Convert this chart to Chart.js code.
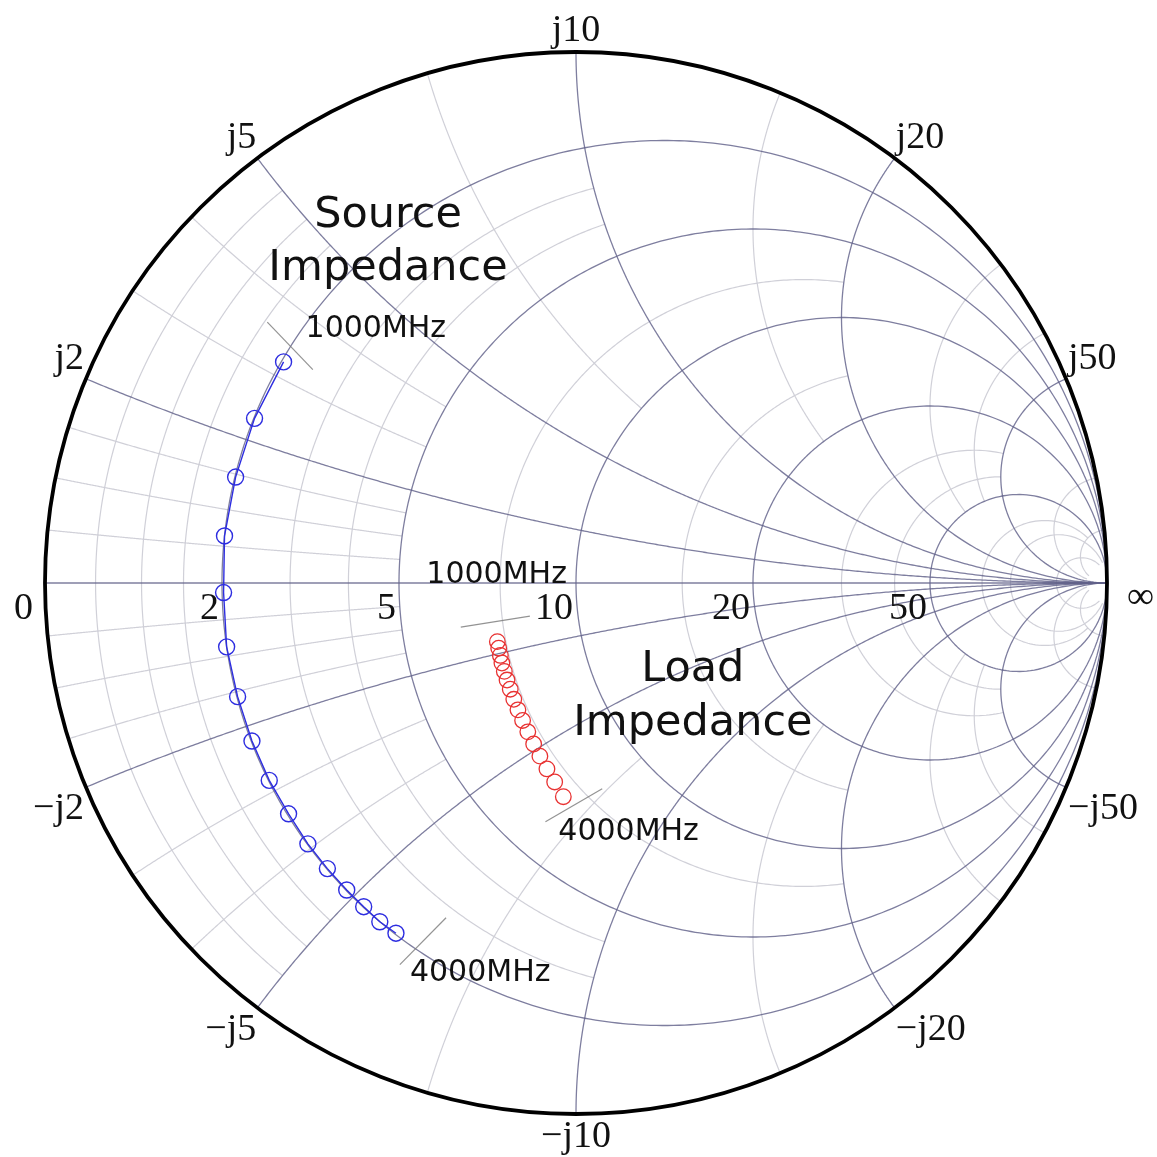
<!DOCTYPE html>
<html>
<head>
<meta charset="utf-8">
<script src="https://cdn.jsdelivr.net/npm/chart.js@4/dist/chart.umd.min.js"></script>
<style>
  html, body { margin: 0; padding: 0; background: #ffffff; }
  canvas { display: block; }
</style>
</head>
<body>
<canvas id="smith" width="1157" height="1157"></canvas>
<script>
// Reference impedance of the chart (ohms)
const Z0 = 10;

// Sweep frequencies, MHz
const frequencyMHz = [1000, 1200, 1400, 1600, 1800, 2000, 2200, 2400, 2600, 2800, 3000, 3200, 3400, 3600, 3800, 4000];

// Source impedance R + jX (ohms)
const sourceResistance = [2.03, 2.01, 2.01, 2.00, 2.02, 2.00, 2.01, 2.01, 2.01, 2.02, 2.01, 2.01, 2.01, 2.01, 2.00, 2.02];
const sourceReactance  = [3.23, 2.32, 1.46, 0.64, -0.13, -0.87, -1.57, -2.22, -2.83, -3.39, -3.92, -4.40, -4.85, -5.23, -5.59, -5.92];

// Load impedance R + jX (ohms)
const loadResistance = [7.26, 7.26, 7.26, 7.25, 7.25, 7.25, 7.25, 7.24, 7.23, 7.22, 7.20, 7.17, 7.13, 7.08, 7.02, 6.92];
const loadReactance  = [-1.66, -1.85, -2.06, -2.28, -2.53, -2.79, -3.07, -3.38, -3.71, -4.05, -4.42, -4.82, -5.23, -5.67, -6.13, -6.65];

// Grid: major circles/arcs (ohms), drawn in full
const majorGridOhms = [2, 5, 10, 20, 50];
// Minor resistance circles (ohms) and the |X| (ohms) each one runs out to
const minorResistanceOhms  = [0.5, 1, 1.5, 3, 4, 7.5, 15, 30, 40, 75, 100, 200];
const minorResistanceReach = [5, 5, 5, 10, 10, 20, 20, 50, 50, 200, 500, 500];
// Minor reactance arcs (ohms) and the R (ohms) each one runs out to
const minorReactanceOhms  = [0.5, 1, 1.5, 3, 4, 7.5, 15, 30, 40, 100, 200];
const minorReactanceReach = [5, 5, 5, 5, 5, 10, 20, 50, 50, 500, 500];

// Axis tick labels
const resistanceTickOhms   = [0, 2, 5, 10, 20, 50, Infinity];
const resistanceTickLabels = ['0', '2', '5', '10', '20', '50', '\u221E'];
const reactanceTickOhms    = [2, 5, 10, 20, 50, -2, -5, -10, -20, -50];
const reactanceTickLabels  = ['j2', 'j5', 'j10', 'j20', 'j50', '\u2212j2', '\u2212j5', '\u2212j10', '\u2212j20', '\u2212j50'];

// Frequency markers at the ends of each sweep
const markerLabels = ['1000MHz', '4000MHz'];
const seriesTitles = [['Source', 'Impedance'], ['Load', 'Impedance']];

// Normalised impedance -> reflection coefficient
function gamma(r, x) {
  const d = (r + 1) * (r + 1) + x * x;
  return { x: (r * r + x * x - 1) / d, y: 2 * x / d };
}

const sourcePoints = sourceResistance.map((R, i) => gamma(R / Z0, sourceReactance[i] / Z0));
const loadPoints = loadResistance.map((R, i) => gamma(R / Z0, loadReactance[i] / Z0));

const DARK = 'rgba(98, 98, 138, 0.82)';
const LIGHT = 'rgba(205, 205, 214, 0.95)';

// placement of the frequency markers relative to the sweep end points (pixels)
const markerLayout = [
  { ds: 0, idx: 0, text: markerLabels[0], tick: [6.5, -16], dir: [0.69, 0.72], half: 33, label: [22, -33] },
  { ds: 0, idx: 15, text: markerLabels[1], tick: [27, 8], dir: [-0.70, 0.71], half: 33, label: [14, 40] },
  { ds: 1, idx: 0, text: markerLabels[0], tick: [-2, -20], dir: [0.988, -0.155], half: 35, label: [-71, -66] },
  { ds: 1, idx: 15, text: markerLabels[1], tick: [10.5, 8.5], dir: [0.86, -0.5], half: 33, label: [-5, 36] }
];

const smithGrid = {
  id: 'smithGrid',
  beforeDatasetsDraw(chart) {
    const { ctx, scales: { x: sx, y: sy } } = chart;
    const toPx = g => [sx.getPixelForValue(g.x), sy.getPixelForValue(g.y)];
    const N = 500;

    function stroke(pts, color, width) {
      ctx.save();
      ctx.strokeStyle = color;
      ctx.lineWidth = width;
      ctx.lineJoin = 'round';
      ctx.beginPath();
      pts.forEach((p, i) => (i ? ctx.lineTo(p[0], p[1]) : ctx.moveTo(p[0], p[1])));
      ctx.stroke();
      ctx.restore();
    }
    // constant-resistance circle, |x| <= xMax (normalised)
    function resistance(r, xMax, color, width) {
      const vm = Math.atan(xMax);
      const pts = [];
      for (let i = 0; i <= N; i++) {
        const v = -vm + (2 * vm * i) / N;
        pts.push(toPx(gamma(r, Math.tan(v))));
      }
      stroke(pts, color, width);
    }
    // constant-reactance arc, 0 <= r <= rMax (normalised)
    function reactance(x, rMax, color, width) {
      const um = Math.atan(rMax);
      const pts = [];
      for (let i = 0; i <= N; i++) {
        const u = (um * i) / N;
        pts.push(toPx(gamma(Math.tan(u), x)));
      }
      stroke(pts, color, width);
    }

    // minor grid
    minorResistanceOhms.forEach((R, i) => resistance(R / Z0, minorResistanceReach[i] / Z0, LIGHT, 1.2));
    minorReactanceOhms.forEach((X, i) => {
      reactance(X / Z0, minorReactanceReach[i] / Z0, LIGHT, 1.2);
      reactance(-X / Z0, minorReactanceReach[i] / Z0, LIGHT, 1.2);
    });

    // major grid
    majorGridOhms.forEach(V => {
      resistance(V / Z0, Infinity, DARK, 1.3);
      reactance(V / Z0, Infinity, DARK, 1.3);
      reactance(-V / Z0, Infinity, DARK, 1.3);
    });
    stroke([toPx({ x: -1, y: 0 }), toPx({ x: 1, y: 0 })], DARK, 1.3);

    // outer boundary |Gamma| = 1
    const c = toPx({ x: 0, y: 0 });
    const rad = sx.getPixelForValue(1) - c[0];
    ctx.save();
    ctx.strokeStyle = '#000000';
    ctx.lineWidth = 3.8;
    ctx.beginPath();
    ctx.arc(c[0], c[1], rad, 0, Math.PI * 2);
    ctx.stroke();
    ctx.restore();

    // frequency marker ticks
    ctx.save();
    ctx.strokeStyle = 'rgba(120, 120, 120, 0.8)';
    ctx.lineWidth = 1.2;
    markerLayout.forEach(m => {
      const p = toPx(chart.data.datasets[m.ds].data[m.idx]);
      const cx = p[0] + m.tick[0], cy = p[1] + m.tick[1];
      ctx.beginPath();
      ctx.moveTo(cx - m.dir[0] * m.half, cy - m.dir[1] * m.half);
      ctx.lineTo(cx + m.dir[0] * m.half, cy + m.dir[1] * m.half);
      ctx.stroke();
    });
    ctx.restore();
  }
};

const smithLabels = {
  id: 'smithLabels',
  afterDatasetsDraw(chart) {
    const { ctx, scales: { x: sx, y: sy } } = chart;
    const toPx = g => [sx.getPixelForValue(g.x), sy.getPixelForValue(g.y)];
    ctx.save();
    ctx.fillStyle = '#111111';

    // resistance values along the real axis
    ctx.font = '38px "Liberation Serif", "Times New Roman", serif';
    resistanceTickOhms.forEach((R, i) => {
      const r = R / Z0;
      const gx = R === Infinity ? 1 : (r - 1) / (r + 1);
      const p = toPx({ x: gx, y: 0 });
      if (R === Infinity) {
        ctx.textAlign = 'left';
        ctx.textBaseline = 'middle';
        ctx.fillText(resistanceTickLabels[i], p[0] + 20, p[1] + 15);
      } else {
        ctx.textAlign = 'right';
        ctx.textBaseline = 'top';
        ctx.fillText(resistanceTickLabels[i], p[0] - (R === 0 ? 12 : 3), p[1] + 7);
      }
    });

    // reactance values around the rim
    reactanceTickOhms.forEach((X, i) => {
      const g = gamma(0, X / Z0);
      const p = toPx(g);
      const nx = g.x, ny = g.y;
      let ax = p[0] + nx * 2, ay = p[1] - ny * 2;
      if (Math.abs(nx) < 0.2) {
        ctx.textAlign = 'center';
      } else if (nx < 0) {
        ctx.textAlign = 'right';
      } else {
        ctx.textAlign = 'left';
      }
      if (ny > 0) {
        ctx.textBaseline = 'bottom';
      } else {
        ctx.textBaseline = 'top';
        ay += 2;
      }
      ctx.fillText(reactanceTickLabels[i], ax, ay);
    });

    // sweep titles
    ctx.font = '43px "DejaVu Sans", sans-serif';
    ctx.textAlign = 'center';
    ctx.textBaseline = 'alphabetic';
    const titlePos = [{ x: -0.354, y: [0.670, 0.570] }, { x: 0.220, y: [-0.185, -0.286] }];
    seriesTitles.forEach((lines, k) => {
      lines.forEach((t, j) => {
        const p = toPx({ x: titlePos[k].x, y: titlePos[k].y[j] });
        ctx.fillText(t, p[0], p[1]);
      });
    });

    // frequency marker text
    ctx.font = '30px "DejaVu Sans", sans-serif';
    ctx.textAlign = 'left';
    ctx.textBaseline = 'middle';
    markerLayout.forEach(m => {
      const p = toPx(chart.data.datasets[m.ds].data[m.idx]);
      ctx.fillText(m.text, p[0] + m.label[0], p[1] + m.label[1]);
    });
    ctx.restore();
  }
};

new Chart(document.getElementById('smith'), {
  type: 'scatter',
  data: {
    datasets: [
      {
        label: 'Source Impedance',
        data: sourcePoints,
        showLine: true,
        tension: 0,
        borderColor: '#2d2de0',
        borderWidth: 1.4,
        pointRadius: 8,
        pointBorderWidth: 1.4,
        pointBorderColor: '#2d2de0',
        pointBackgroundColor: 'rgba(0,0,0,0)',
        clip: false
      },
      {
        label: 'Load Impedance',
        data: loadPoints,
        showLine: false,
        pointRadius: 7.8,
        pointBorderWidth: 1.3,
        pointBorderColor: '#e83232',
        pointBackgroundColor: 'rgba(0,0,0,0)',
        clip: false
      }
    ]
  },
  options: {
    responsive: false,
    animation: false,
    events: [],
    layout: { padding: { left: 45, right: 50, top: 52, bottom: 43 } },
    scales: {
      x: { type: 'linear', min: -1, max: 1, display: false },
      y: { type: 'linear', min: -1, max: 1, display: false }
    },
    plugins: { legend: { display: false }, tooltip: { enabled: false } }
  },
  plugins: [smithGrid, smithLabels]
});
</script>
</body>
</html>
